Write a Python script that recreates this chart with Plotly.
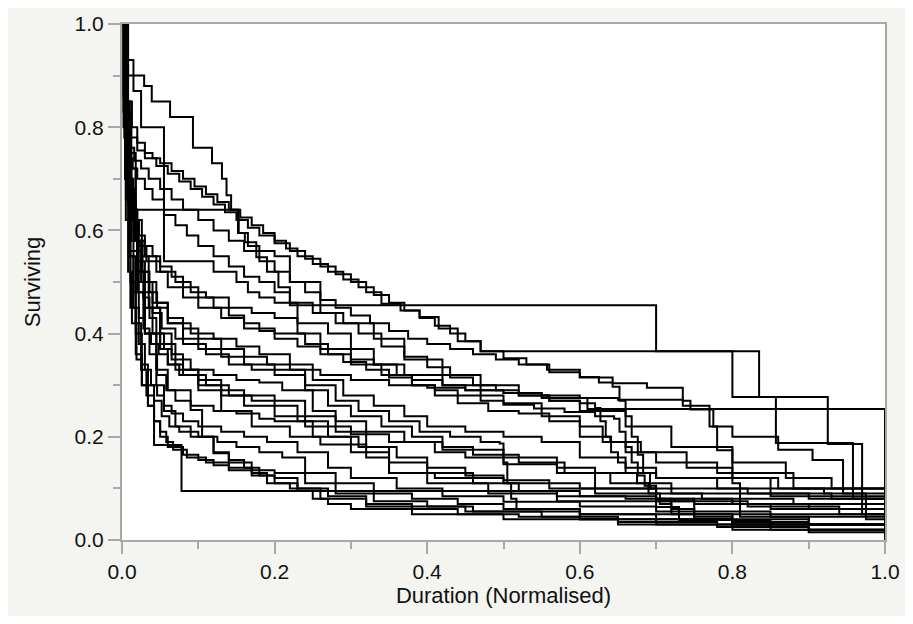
import plotly.graph_objects as go

# ---- data: each curve = step times (normalised duration) and surviving fraction after each step ----
c01_t = [0, 0.008, 0.029, 0.039, 0.063, 0.093, 0.118, 0.131, 0.137, 0.143, 0.153, 0.161, 0.176, 0.19, 0.205, 0.22, 0.70, 0.835, 0.925, 0.97, 1.0]
c01_s = [1.0, 0.90, 0.88, 0.85, 0.82, 0.76, 0.73, 0.70, 0.668, 0.64, 0.595, 0.577, 0.548, 0.52, 0.49, 0.455, 0.366, 0.277, 0.186, 0.05, 0.0]

c02_t = [0, 0.004, 0.008, 0.013, 0.02, 0.03, 0.04, 0.05, 0.065, 0.08, 0.095, 0.11, 0.125, 0.14, 0.155, 0.17, 0.185, 0.2, 0.215, 0.23, 0.25, 0.27, 0.29, 0.31, 0.33, 0.35, 0.37, 0.39, 0.41, 0.43, 0.45, 0.47, 0.80, 0.857, 0.958, 1.0]
c02_s = [1.0, 0.92, 0.85, 0.80, 0.77, 0.75, 0.74, 0.73, 0.715, 0.70, 0.685, 0.67, 0.655, 0.64, 0.625, 0.61, 0.595, 0.58, 0.565, 0.55, 0.535, 0.52, 0.505, 0.49, 0.475, 0.46, 0.445, 0.43, 0.415, 0.40, 0.385, 0.366, 0.277, 0.188, 0.08, 0.0]

c03_t = [0, 0.003, 0.007, 0.012, 0.02, 0.03, 0.045, 0.06, 0.075, 0.09, 0.105, 0.12, 0.135, 0.15, 0.165, 0.18, 0.2, 0.22, 0.24, 0.26, 0.28, 0.3, 0.32, 0.34, 0.365, 0.39, 0.415, 0.44, 0.47, 0.5, 0.53, 0.557, 0.6, 0.643, 0.688, 0.735, 0.77, 0.80, 0.86, 0.905, 0.945, 0.975, 1.0]
c03_s = [1.0, 0.90, 0.83, 0.78, 0.755, 0.74, 0.725, 0.71, 0.695, 0.68, 0.665, 0.65, 0.635, 0.62, 0.605, 0.59, 0.575, 0.56, 0.545, 0.53, 0.515, 0.50, 0.48, 0.458, 0.445, 0.432, 0.41, 0.385, 0.366, 0.352, 0.34, 0.33, 0.315, 0.304, 0.295, 0.26, 0.22, 0.20, 0.175, 0.155, 0.09, 0.04, 0.0]

c04_t = [0, 0.003, 0.006, 0.01, 0.016, 0.025, 0.035, 0.05, 0.065, 0.08, 0.1, 0.12, 0.14, 0.16, 0.18, 0.2, 0.22, 0.24, 0.26, 0.28, 0.3, 0.325, 0.35, 0.375, 0.4, 0.43, 0.46, 0.49, 0.52, 0.56, 0.6, 0.625, 0.643, 0.652, 0.66, 0.668, 0.676, 0.683, 0.692, 0.70, 0.73, 0.85, 1.0]
c04_s = [1.0, 0.88, 0.80, 0.76, 0.735, 0.72, 0.70, 0.68, 0.66, 0.64, 0.62, 0.60, 0.58, 0.56, 0.54, 0.52, 0.50, 0.48, 0.465, 0.45, 0.435, 0.42, 0.405, 0.39, 0.38, 0.37, 0.36, 0.35, 0.34, 0.325, 0.316, 0.305, 0.297, 0.27, 0.24, 0.20, 0.165, 0.13, 0.10, 0.064, 0.039, 0.02, 0.0]

c05_t = [0, 0.002, 0.005, 0.009, 0.014, 0.02, 0.03, 0.04, 0.055, 0.07, 0.085, 0.1, 0.12, 0.14, 0.16, 0.18, 0.2, 0.22, 0.25, 0.28, 0.31, 0.34, 0.37, 0.4, 0.43, 0.46, 0.49, 0.52, 0.56, 0.6, 0.62, 0.627, 0.634, 0.641, 0.65, 0.66, 0.675, 0.69, 0.705, 0.72, 0.8, 1.0]
c05_s = [1.0, 0.86, 0.78, 0.74, 0.72, 0.70, 0.68, 0.66, 0.63, 0.61, 0.59, 0.57, 0.55, 0.53, 0.51, 0.50, 0.48, 0.46, 0.44, 0.42, 0.40, 0.375, 0.355, 0.335, 0.315, 0.30, 0.29, 0.28, 0.27, 0.265, 0.256, 0.23, 0.20, 0.17, 0.15, 0.13, 0.11, 0.09, 0.07, 0.05, 0.03, 0.0]

c06_t = [0, 0.002, 0.005, 0.01, 0.015, 0.022, 0.03, 0.04, 0.05, 0.065, 0.08, 0.1, 0.12, 0.14, 0.16, 0.18, 0.2, 0.23, 0.26, 0.29, 0.32, 0.35, 0.38, 0.41, 0.44, 0.47, 0.5, 0.54, 0.58, 0.62, 0.645, 0.652, 0.66, 0.668, 0.676, 0.685, 0.70, 0.72, 0.75, 0.8, 0.9, 1.0]
c06_s = [1.0, 0.83, 0.72, 0.66, 0.62, 0.59, 0.57, 0.55, 0.53, 0.51, 0.49, 0.47, 0.45, 0.435, 0.42, 0.405, 0.39, 0.375, 0.36, 0.345, 0.33, 0.315, 0.30, 0.29, 0.28, 0.27, 0.262, 0.255, 0.248, 0.24, 0.235, 0.21, 0.18, 0.15, 0.125, 0.105, 0.08, 0.06, 0.045, 0.035, 0.02, 0.0]

c07_t = [0, 0.002, 0.006, 0.012, 0.02, 0.03, 0.045, 0.06, 0.08, 0.1, 0.13, 0.16, 0.2, 0.24, 0.27, 0.3, 0.33, 0.36, 0.38, 0.42, 0.45, 0.5, 0.55, 0.61, 1.0]
c07_s = [1.0, 0.80, 0.68, 0.62, 0.58, 0.55, 0.52, 0.49, 0.47, 0.45, 0.43, 0.41, 0.40, 0.38, 0.36, 0.35, 0.34, 0.32, 0.31, 0.30, 0.29, 0.285, 0.275, 0.254, 0.0]

c08_t = [0, 0.003, 0.008, 0.015, 0.025, 0.04, 0.06, 0.08, 0.1, 0.13, 0.16, 0.19, 0.22, 0.26, 0.3, 0.35, 0.4, 0.45, 0.5, 0.55, 0.6, 0.65, 0.735, 0.745, 0.775, 0.78, 0.80, 0.81, 0.9, 1.0]
c08_s = [1.0, 0.78, 0.65, 0.56, 0.50, 0.46, 0.43, 0.41, 0.39, 0.37, 0.355, 0.34, 0.33, 0.32, 0.31, 0.30, 0.295, 0.29, 0.285, 0.28, 0.275, 0.272, 0.27, 0.253, 0.22, 0.174, 0.11, 0.045, 0.03, 0.0]

c09_t = [0, 0.006, 0.015, 0.025, 0.055, 0.12, 0.15, 0.165, 0.18, 0.2, 0.23, 0.27, 0.3, 0.33, 0.37, 0.42, 0.47, 0.5, 0.55, 0.6, 0.63, 0.66, 0.7, 0.78, 0.88, 1.0]
c09_s = [1.0, 0.93, 0.87, 0.80, 0.54, 0.52, 0.50, 0.48, 0.47, 0.46, 0.42, 0.40, 0.37, 0.34, 0.32, 0.30, 0.28, 0.265, 0.24, 0.22, 0.19, 0.17, 0.15, 0.13, 0.10, 0.0]

c10_t = [0, 0.004, 0.01, 0.018, 0.152, 0.165, 0.18, 0.2, 0.22, 0.26, 0.29, 0.33, 0.37, 0.42, 0.47, 0.52, 0.56, 0.60, 0.66, 0.72, 0.80, 0.87, 0.93, 1.0]
c10_s = [1.0, 0.85, 0.75, 0.64, 0.595, 0.57, 0.56, 0.55, 0.50, 0.44, 0.42, 0.39, 0.35, 0.32, 0.30, 0.28, 0.27, 0.25, 0.22, 0.18, 0.15, 0.12, 0.10, 0.0]

c11_t = [0, 0.003, 0.008, 0.014, 0.022, 0.032, 0.05, 0.07, 0.09, 0.11, 0.14, 0.17, 0.2, 0.23, 0.26, 0.3, 0.34, 0.38, 0.41, 0.44, 0.48, 0.52, 0.56, 0.6, 0.64, 0.68, 0.74, 0.8, 0.86, 0.92, 1.0]
c11_s = [1.0, 0.82, 0.70, 0.62, 0.57, 0.54, 0.52, 0.50, 0.48, 0.47, 0.45, 0.44, 0.43, 0.40, 0.37, 0.34, 0.32, 0.30, 0.28, 0.265, 0.25, 0.245, 0.23, 0.20, 0.19, 0.17, 0.14, 0.12, 0.10, 0.09, 0.0]

c12_t = [0, 0.004, 0.01, 0.018, 0.027, 0.036, 0.046, 0.06, 0.09, 0.12, 0.15, 0.18, 0.22, 0.25, 0.29, 0.33, 0.37, 0.4, 0.45, 0.5, 0.55, 0.6, 0.66, 0.7, 0.78, 0.85, 1.0]
c12_s = [1.0, 0.80, 0.66, 0.58, 0.52, 0.48, 0.45, 0.42, 0.40, 0.39, 0.375, 0.36, 0.34, 0.31, 0.28, 0.26, 0.24, 0.22, 0.21, 0.20, 0.19, 0.16, 0.14, 0.12, 0.10, 0.085, 0.0]

c13_t = [0, 0.005, 0.012, 0.02, 0.03, 0.04, 0.052, 0.07, 0.1, 0.13, 0.16, 0.2, 0.24, 0.28, 0.31, 0.35, 0.39, 0.43, 0.47, 0.495, 0.5, 0.505, 0.51, 0.517, 0.6, 0.75, 0.9, 1.0]
c13_s = [1.0, 0.76, 0.62, 0.54, 0.48, 0.44, 0.41, 0.39, 0.37, 0.355, 0.34, 0.33, 0.30, 0.27, 0.25, 0.23, 0.21, 0.20, 0.19, 0.187, 0.15, 0.11, 0.08, 0.06, 0.05, 0.04, 0.03, 0.0]

c14_t = [0, 0.005, 0.01, 0.018, 0.026, 0.035, 0.045, 0.06, 0.08, 0.11, 0.14, 0.17, 0.2, 0.24, 0.27, 0.3, 0.34, 0.38, 0.42, 0.46, 0.52, 0.58, 0.64, 0.72, 0.82, 0.93, 1.0]
c14_s = [1.0, 0.85, 0.72, 0.62, 0.55, 0.50, 0.46, 0.42, 0.38, 0.36, 0.34, 0.33, 0.32, 0.29, 0.26, 0.24, 0.22, 0.20, 0.18, 0.165, 0.15, 0.13, 0.11, 0.10, 0.09, 0.08, 0.0]

c15_t = [0, 0.006, 0.012, 0.02, 0.028, 0.036, 0.045, 0.055, 0.065, 0.09, 0.12, 0.15, 0.18, 0.21, 0.25, 0.28, 0.32, 0.37, 0.41, 0.45, 0.5, 0.57, 0.62, 0.7, 0.76, 0.88, 1.0]
c15_s = [1.0, 0.72, 0.60, 0.52, 0.47, 0.43, 0.40, 0.37, 0.35, 0.33, 0.32, 0.31, 0.305, 0.29, 0.25, 0.23, 0.21, 0.19, 0.17, 0.16, 0.147, 0.13, 0.10, 0.09, 0.08, 0.07, 0.0]

c16_t = [0, 0.005, 0.012, 0.02, 0.03, 0.04, 0.05, 0.06, 0.075, 0.1, 0.13, 0.16, 0.2, 0.24, 0.28, 0.32, 0.36, 0.4, 0.45, 0.5, 0.56, 0.62, 0.7, 0.8, 0.9, 1.0]
c16_s = [1.0, 0.80, 0.64, 0.52, 0.45, 0.40, 0.37, 0.34, 0.32, 0.30, 0.29, 0.28, 0.27, 0.24, 0.21, 0.18, 0.16, 0.14, 0.125, 0.116, 0.10, 0.09, 0.08, 0.07, 0.06, 0.0]

c17_t = [0, 0.004, 0.009, 0.015, 0.022, 0.03, 0.038, 0.048, 0.06, 0.08, 0.11, 0.14, 0.17, 0.2, 0.23, 0.27, 0.31, 0.35, 0.4, 0.46, 0.52, 0.6, 0.7, 0.82, 0.94, 1.0]
c17_s = [1.0, 0.70, 0.56, 0.48, 0.43, 0.40, 0.38, 0.36, 0.34, 0.32, 0.30, 0.28, 0.27, 0.26, 0.23, 0.20, 0.18, 0.15, 0.13, 0.11, 0.095, 0.085, 0.075, 0.065, 0.05, 0.0]

c18_t = [0, 0.003, 0.009, 0.016, 0.025, 0.035, 0.05, 0.065, 0.08, 0.1, 0.13, 0.16, 0.2, 0.24, 0.3, 0.35, 0.42, 0.5, 0.57, 0.62, 0.7, 0.85, 1.0]
c18_s = [1.0, 0.82, 0.68, 0.58, 0.52, 0.45, 0.40, 0.36, 0.33, 0.31, 0.28, 0.26, 0.24, 0.22, 0.205, 0.19, 0.175, 0.16, 0.14, 0.13, 0.12, 0.10, 0.0]

c19_t = [0, 0.005, 0.012, 0.02, 0.028, 0.036, 0.046, 0.058, 0.07, 0.09, 0.12, 0.15, 0.18, 0.2, 0.25, 0.3, 0.35, 0.4, 0.48, 0.57, 0.66, 0.75, 0.85, 1.0]
c19_s = [1.0, 0.75, 0.58, 0.48, 0.41, 0.36, 0.32, 0.29, 0.27, 0.26, 0.25, 0.245, 0.235, 0.23, 0.20, 0.17, 0.13, 0.11, 0.09, 0.085, 0.08, 0.07, 0.06, 0.0]

c20_t = [0, 0.004, 0.01, 0.02, 0.03, 0.05, 0.07, 0.1, 0.13, 0.17, 0.22, 0.26, 0.32, 0.35, 0.41, 0.5, 0.6, 0.72, 0.9, 1.0]
c20_s = [1.0, 0.78, 0.64, 0.52, 0.45, 0.38, 0.33, 0.29, 0.25, 0.22, 0.20, 0.185, 0.16, 0.13, 0.12, 0.11, 0.10, 0.09, 0.08, 0.0]

c21_t = [0, 0.004, 0.009, 0.015, 0.022, 0.03, 0.038, 0.046, 0.055, 0.065, 0.08, 0.1, 0.13, 0.16, 0.19, 0.23, 0.27, 0.3, 0.36, 0.42, 0.5, 0.6, 0.7, 0.85, 1.0]
c21_s = [1.0, 0.72, 0.55, 0.45, 0.38, 0.33, 0.30, 0.28, 0.26, 0.245, 0.23, 0.22, 0.21, 0.20, 0.19, 0.17, 0.14, 0.12, 0.10, 0.085, 0.074, 0.065, 0.055, 0.045, 0.0]

c22_t = [0, 0.005, 0.011, 0.018, 0.026, 0.034, 0.042, 0.052, 0.062, 0.075, 0.1, 0.125, 0.15, 0.18, 0.21, 0.24, 0.28, 0.33, 0.38, 0.44, 0.5, 0.6, 0.7, 0.8, 1.0]
c22_s = [1.0, 0.66, 0.50, 0.40, 0.34, 0.30, 0.27, 0.24, 0.22, 0.21, 0.20, 0.19, 0.18, 0.17, 0.16, 0.13, 0.11, 0.09, 0.08, 0.07, 0.06, 0.05, 0.04, 0.03, 0.0]

c23_t = [0, 0.004, 0.008, 0.013, 0.019, 0.026, 0.034, 0.042, 0.05, 0.058, 0.067, 0.085, 0.11, 0.14, 0.17, 0.2, 0.24, 0.28, 0.33, 0.4, 0.46, 0.55, 0.65, 0.78, 0.9, 1.0]
c23_s = [1.0, 0.70, 0.52, 0.42, 0.35, 0.30, 0.26, 0.23, 0.21, 0.19, 0.175, 0.16, 0.15, 0.14, 0.135, 0.13, 0.11, 0.09, 0.075, 0.065, 0.055, 0.045, 0.035, 0.025, 0.015, 0.0]

c24_t = [0, 0.005, 0.011, 0.018, 0.026, 0.034, 0.042, 0.05, 0.06, 0.08, 0.1, 0.12, 0.14, 0.17, 0.2, 0.23, 0.27, 0.32, 0.38, 0.44, 0.52, 0.6, 0.7, 0.8, 1.0]
c24_s = [1.0, 0.62, 0.45, 0.36, 0.30, 0.26, 0.23, 0.20, 0.18, 0.165, 0.155, 0.145, 0.135, 0.125, 0.12, 0.10, 0.085, 0.07, 0.06, 0.05, 0.045, 0.04, 0.03, 0.02, 0.0]

c25_t = [0, 0.005, 0.012, 0.02, 0.03, 0.045, 0.06, 0.09, 0.105, 0.12, 0.14, 0.16, 0.18, 0.2, 0.23, 0.25, 0.27, 0.3, 0.38, 0.5, 0.65, 1.0]
c25_s = [1.0, 0.80, 0.62, 0.50, 0.40, 0.33, 0.29, 0.252, 0.20, 0.168, 0.155, 0.14, 0.125, 0.11, 0.095, 0.08, 0.07, 0.06, 0.05, 0.04, 0.03, 0.0]

c26_t = [0, 0.004, 0.01, 0.018, 0.025, 0.032, 0.042, 0.078, 0.57, 0.75, 1.0]
c26_s = [1.0, 0.75, 0.55, 0.42, 0.33, 0.28, 0.184, 0.095, 0.075, 0.05, 0.0]

c27_t = [0, 0.003, 0.008, 0.015, 0.022, 0.03, 0.045, 0.055, 0.07, 0.09, 0.12, 0.14, 0.17, 0.19, 0.22, 0.26, 0.32, 0.45, 0.6, 0.8, 1.0]
c27_s = [1.0, 0.85, 0.70, 0.58, 0.48, 0.40, 0.30, 0.25, 0.22, 0.20, 0.17, 0.15, 0.13, 0.11, 0.10, 0.08, 0.065, 0.055, 0.04, 0.03, 0.0]

curves = [
    (c01_t, c01_s), (c02_t, c02_s), (c03_t, c03_s), (c04_t, c04_s), (c05_t, c05_s),
    (c06_t, c06_s), (c07_t, c07_s), (c08_t, c08_s), (c09_t, c09_s), (c10_t, c10_s),
    (c11_t, c11_s), (c12_t, c12_s), (c13_t, c13_s), (c14_t, c14_s), (c15_t, c15_s),
    (c16_t, c16_s), (c17_t, c17_s), (c18_t, c18_s), (c19_t, c19_s), (c20_t, c20_s),
    (c21_t, c21_s), (c22_t, c22_s), (c23_t, c23_s), (c24_t, c24_s), (c25_t, c25_s),
    (c26_t, c26_s), (c27_t, c27_s),
]

tick_vals = [0.0, 0.2, 0.4, 0.6, 0.8, 1.0]
tick_text = ["0.0", "0.2", "0.4", "0.6", "0.8", "1.0"]

fig = go.Figure()
for t, s in curves:
    fig.add_trace(go.Scatter(
        x=t, y=s, mode="lines", line=dict(color="black", width=2, shape="hv"),
        showlegend=False, hoverinfo="skip",
    ))

FONT = "Liberation Sans, Arial, sans-serif"
axis_font = dict(family=FONT, size=21, color="#111111")
common = dict(
    range=[0, 1], tickvals=tick_vals, ticktext=tick_text, automargin=False,
    showgrid=False, zeroline=False, showline=True, linecolor="#a8a8a8", linewidth=2,
    mirror=True, ticks="outside", ticklen=12, tickwidth=2, tickcolor="#a8a8a8",
    tickfont=axis_font,
    minor=dict(ticks="outside", dtick=0.1, tick0=0, ticklen=7, tickwidth=2, tickcolor="#a8a8a8", showgrid=False),
)

fig.update_layout(
    width=897, height=608,
    margin=dict(l=114, r=20, t=16, b=76),
    paper_bgcolor="#f4f4f0", plot_bgcolor="white",
    xaxis=dict(common, title=dict(text="Duration (Normalised)", font=dict(family=FONT, size=22, color="#111111"), standoff=2)),
    yaxis=dict(common, title=dict(text="Surviving", font=dict(family=FONT, size=22, color="#111111"), standoff=28)),
)

fig.write_html("out.html")
